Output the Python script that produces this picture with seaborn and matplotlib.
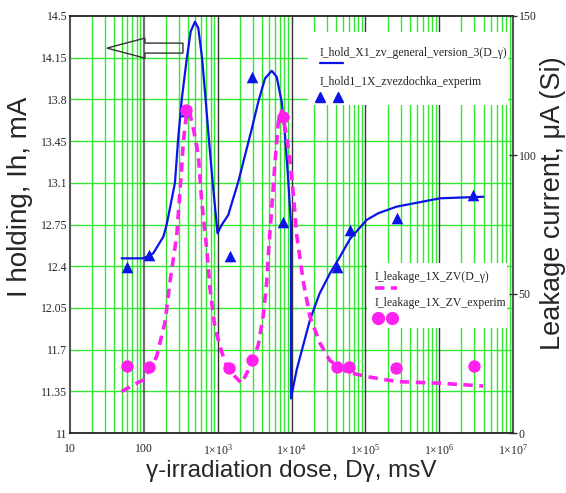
import numpy as np
import pandas as pd
import matplotlib
matplotlib.use("Agg")
import matplotlib.pyplot as plt
import seaborn as sns
from matplotlib.ticker import FixedLocator, FixedFormatter, NullLocator
from matplotlib.patches import Rectangle, Polygon
from matplotlib.lines import Line2D

# ---------------- data ----------------
hold_dose = [50.1, 98.4, 134, 184, 204, 264, 290, 326, 383, 431, 493, 547, 614, 687,
             764, 857, 970, 995, 1133, 1393, 1470, 1905, 2345, 2890, 3550, 4373, 5395,
             6300, 7360, 8170, 9060, 9840, 9840, 11740, 17800, 24000, 33200, 45400,
             62100, 104000, 150000, 266000, 1.03e6, 3.96e6]
hold_ih = [12.466, 12.466, 12.508, 12.648, 12.75, 13.1, 13.45, 13.8, 14.15, 14.37,
           14.452, 14.397, 14.15, 13.8, 13.45, 13.1, 12.75, 12.676, 12.746, 12.83,
           12.88, 13.11, 13.33, 13.55, 13.78, 13.975, 14.04, 13.99, 13.78, 13.5, 13.11,
           12.746, 11.29, 11.53, 11.95, 12.17, 12.34, 12.48, 12.63, 12.788, 12.845,
           12.9, 12.97, 12.983]

hold_exp_dose = [59.7, 118.6, 372, 1470, 2890, 7740, 40900, 62100, 266000, 2.9e6]
hold_exp_ih = [12.39, 12.494, 13.70, 12.486, 13.985, 12.774, 12.396, 12.704, 12.802,
               13.0]

leak_dose = [50, 72, 98.4, 149, 194, 226, 279, 319, 343, 380, 410, 468, 547, 608, 710,
             787, 920, 1133, 1352, 1718, 2113, 2890, 3550, 4150, 4617, 4850, 5395,
             5984, 6640, 7400, 8600, 9550, 10600, 11750, 14450, 17800, 24300, 33200,
             56000, 104000, 266000, 1.03e6, 3.96e6]
leak_ua = [14.9, 17.3, 19.1, 27.5, 40.0, 54.4, 71.0, 92.0, 105.0, 115.0, 116.0, 109.6,
           100.0, 83.2, 66.4, 52.0, 37.7, 29.2, 23.3, 20.3, 17.9, 25.0, 31.7, 42.4,
           54.4, 64.0, 80.8, 97.6, 112.0, 116.0, 106.6, 97.6, 85.6, 71.2, 54.4, 41.8,
           32.3, 26.0, 22.0, 20.3, 18.5, 17.9, 16.9]

leak_exp_dose = [58.6, 118.6, 372, 1440, 2890, 7740, 40900, 60700, 260000, 2.96e6]
leak_exp_ua = [24.1, 23.6, 116.2, 23.3, 26.3, 113.8, 23.8, 23.8, 23.3, 24.1]

left_ticks = [11, 11.35, 11.7, 12.05, 12.4, 12.75, 13.1, 13.45, 13.8, 14.15, 14.5]
left_tick_labels = ["11", "11.35", "11.7", "12.05", "12.4", "12.75", "13.1",
                    "13.45", "13.8", "14.15", "14.5"]
right_ticks = [0, 50, 100, 150]
right_tick_labels = ["0", "50", "100", "150"]
x_ticks = [10, 100, 1e3, 1e4, 1e5, 1e6, 1e7]
x_tick_labels = ["10", "100", r"1×10$^{3}$", r"1×10$^{4}$", r"1×10$^{5}$",
                 r"1×10$^{6}$", r"1×10$^{7}$"]

legend1_labels = ["I_hold_X1_zv_general_version_3(D_\u03b3)", "I_hold1_1X_zvezdochka_experim"]
legend2_labels = ["I_leakage_1X_ZV(D_\u03b3)", "I_leakage_1X_ZV_experim"]

# ---------------- style ----------------
sns.set_style("white")
plt.rcParams["font.family"] = ["Liberation Serif", "DejaVu Serif"]
plt.rcParams["mathtext.fontset"] = "custom"
plt.rcParams["mathtext.rm"] = "Liberation Serif"
plt.rcParams["mathtext.it"] = "Liberation Serif:italic"

BLUE = "#0a14e6"
MAG = "#ff22ee"
GREEN = "#33e633"
DASH = (0, (2.6, 1.8))

fig = plt.figure(figsize=(5.66, 4.93), dpi=100)
ax = fig.add_axes([70 / 566, 60 / 493, 443 / 566, 417 / 493])
ax.set_xscale("log")
ax.set_xlim(10, 1e7)
ax.set_ylim(11, 14.5)

# grid: green minor verticals, dark decade lines, green horizontals
minor = [m * 10 ** e for e in range(1, 7) for m in range(2, 10)]
for xv in minor:
    ax.axvline(xv, color=GREEN, lw=1.0, zorder=0.5)
for xv in x_ticks[1:-1]:
    ax.axvline(xv, color="#333333", lw=1.0 if xv != 100 else 1.6,
               alpha=1.0 if xv != 100 else 0.7, zorder=0.6)
for yv in left_ticks[1:-1]:
    ax.axhline(yv, color=GREEN, lw=1.0, zorder=0.5)

hold_df = pd.DataFrame({"dose": hold_dose, "ih": hold_ih})
hold_exp_df = pd.DataFrame({"dose": hold_exp_dose, "ih": hold_exp_ih})
sns.lineplot(data=hold_df, x="dose", y="ih", ax=ax, color=BLUE, lw=1.6,
             estimator=None, sort=False, zorder=3)
sns.scatterplot(data=hold_exp_df, x="dose", y="ih", ax=ax, color=BLUE, marker="^",
                s=70, edgecolor=BLUE, linewidth=0, zorder=4)

ax.xaxis.set_major_locator(FixedLocator(x_ticks))
ax.xaxis.set_major_formatter(FixedFormatter(x_tick_labels))
ax.xaxis.set_minor_locator(NullLocator())
ax.yaxis.set_major_locator(FixedLocator(left_ticks))
ax.yaxis.set_major_formatter(FixedFormatter(left_tick_labels))
ax.tick_params(axis="x", length=0, pad=7, labelsize=8.5)
ax.tick_params(axis="y", length=0, pad=2, labelsize=8.5)
ax.set_xlabel("\u03b3-irradiation dose, D\u03b3, msV", family="Liberation Sans",
              fontsize=17.5, labelpad=2)
ax.set_ylabel("I holding, Ih, mA", family="Liberation Sans", fontsize=20)
ax.yaxis.set_label_coords(-0.083, 0.567)
for s in ["left", "right"]:
    ax.spines[s].set_color("#555555")
    ax.spines[s].set_linewidth(1.5)
for s in ["top", "bottom"]:
    ax.spines[s].set_color("#111111")
    ax.spines[s].set_linewidth(1.2)

# right axis
ax2 = ax.twinx()
ax2.set_ylim(0, 150)
leak_df = pd.DataFrame({"dose": leak_dose, "ua": leak_ua})
leak_exp_df = pd.DataFrame({"dose": leak_exp_dose, "ua": leak_exp_ua})
sns.lineplot(data=leak_df, x="dose", y="ua", ax=ax2, color=MAG, lw=2.6,
             linestyle=DASH, estimator=None, sort=False, zorder=3)
sns.scatterplot(data=leak_exp_df, x="dose", y="ua", ax=ax2, color=MAG, marker="o",
                s=80, linewidth=0, zorder=4)
ax2.yaxis.set_major_locator(FixedLocator(right_ticks))
ax2.yaxis.set_major_formatter(FixedFormatter(right_tick_labels))
ax2.tick_params(axis="y", direction="inout", length=6, width=1, pad=1, labelsize=8.5,
                color="#333333")
ax2.set_xlabel("")
ax2.set_ylabel("Leakage current, \u03bcA (Si)", family="Liberation Sans", fontsize=19.5)
ax2.yaxis.set_label_coords(1.06, 0.552)
for s in ax2.spines.values():
    s.set_visible(False)

# arrow (outlined, pointing left)
arrow_pts = [(0.0835, 0.923), (0.169, 0.947), (0.169, 0.935), (0.255, 0.935),
             (0.255, 0.911), (0.169, 0.911), (0.169, 0.899)]
ax2.add_patch(Polygon(arrow_pts, closed=True, fill=False, edgecolor="#333333",
                      lw=1.0, transform=ax2.transAxes, zorder=6))

# legend boxes (Mathcad style: label above, sample below)
tr = ax2.transAxes
ax2.add_patch(Rectangle((0.537, 0.787), 0.452, 0.175, transform=tr, facecolor="white",
                        edgecolor="none", zorder=8))
ax2.text(0.564, 0.911, legend1_labels[0], transform=tr, fontsize=8.5, va="center",
         ha="left", zorder=9)
ax2.add_line(Line2D([0.564, 0.616], [0.887, 0.887], transform=tr, color=BLUE, lw=1.6,
                    zorder=9))
ax2.text(0.564, 0.842, legend1_labels[1], transform=tr, fontsize=8.5, va="center",
         ha="left", zorder=9)
ax2.add_line(Line2D([0.564, 0.605], [0.806, 0.806], transform=tr, color=BLUE, lw=0,
                    marker="^", markersize=7.5, zorder=9))

ax2.add_patch(Rectangle((0.670, 0.252), 0.316, 0.156, transform=tr, facecolor="white",
                        edgecolor="none", zorder=8))
ax2.text(0.688, 0.374, legend2_labels[0], transform=tr, fontsize=8.5, va="center",
         ha="left", zorder=9)
ax2.add_line(Line2D([0.688, 0.738], [0.348, 0.348], transform=tr, color=MAG, lw=2.6,
                    linestyle=DASH, zorder=9))
ax2.text(0.688, 0.312, legend2_labels[1], transform=tr, fontsize=8.5, va="center",
         ha="left", zorder=9)
ax2.add_line(Line2D([0.695, 0.727], [0.276, 0.276], transform=tr, color=MAG, lw=0,
                    marker="o", markersize=8.5, zorder=9))

fig.savefig("out.png", dpi=100, facecolor="white")
